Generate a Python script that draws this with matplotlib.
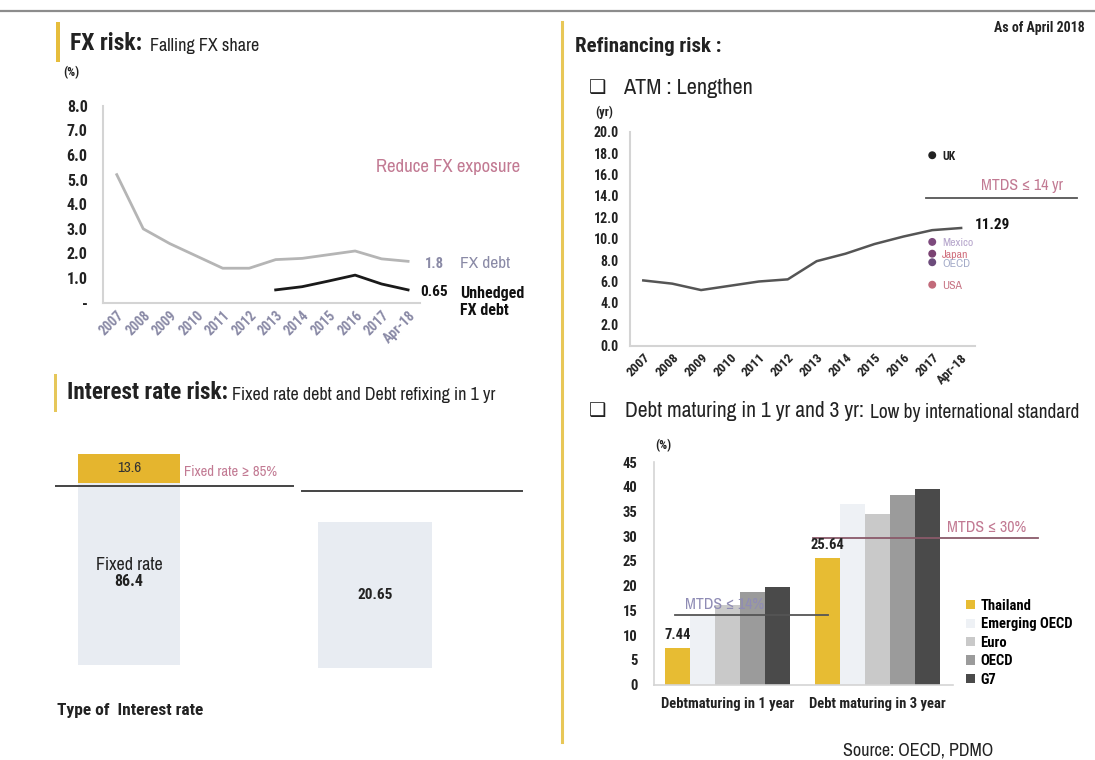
import numpy as np
import matplotlib
matplotlib.use("Agg")
import matplotlib.pyplot as plt
from matplotlib import font_manager as fm
from matplotlib.patches import Rectangle
from matplotlib.lines import Line2D


def _weights(name):
    out = []
    for f in fm.fontManager.ttflist:
        if f.name == name:
            w = f.weight
            if not isinstance(w, (int, float)):
                w = {'bold': 700, 'normal': 400, 'regular': 400}.get(str(w), 400)
            out.append(w)
    return out


REG_CANDS = ['Archivo Narrow', 'Roboto Condensed', 'Liberation Sans']
BOLD_CANDS = ['Roboto Condensed', 'IBM Plex Sans Condensed', 'Fira Sans Condensed',
              'PT Sans Narrow', 'Asap Condensed', 'Barlow Semi Condensed',
              'Encode Sans Condensed', 'Liberation Sans']
REG = next((n for n in REG_CANDS if _weights(n)), 'DejaVu Sans')
BOLD = next((n for n in BOLD_CANDS if any(w >= 600 for w in _weights(n))), 'DejaVu Sans')
plt.rcParams['font.family'] = [REG, 'DejaVu Sans']
BF = [BOLD, 'DejaVu Sans']

# ---------------- data ----------------
years = ['2007', '2008', '2009', '2010', '2011', '2012', '2013', '2014',
         '2015', '2016', '2017', 'Apr-18']
fx_debt = [5.2, 3.0, 2.4, 1.9, 1.4, 1.4, 1.75, 1.8, 1.95, 2.1, 1.78, 1.68]
unhedged_fx = [np.nan] * 6 + [0.52, 0.65, 0.88, 1.12, 0.76, 0.52]
fx_ticks = [0, 1, 2, 3, 4, 5, 6, 7, 8]
fx_ticklabels = ['-', '1.0', '2.0', '3.0', '4.0', '5.0', '6.0', '7.0', '8.0']

atm = [6.1, 5.8, 5.2, 5.6, 6.0, 6.2, 7.9, 8.6, 9.5, 10.2, 10.8, 11.0]
atm_ticks = [0, 2, 4, 6, 8, 10, 12, 14, 16, 18, 20]
peer_names = ['UK', 'Mexico', 'Japan', 'OECD', 'USA']
peer_atm = [17.8, 9.7, 8.6, 7.8, 5.7]
peer_year_idx = 10
mtds_atm = 13.8

interest_types = ['Fixed rate', 'Floating rate']
fixed_rate = 86.4
floating_rate = 13.6
fixed_target = 85
refix_1yr = 20.65
refix_line = 25

maturity_groups = ['Debtmaturing in 1 year', 'Debt maturing in 3 year']
maturity_series = ['Thailand', 'Emerging OECD', 'Euro', 'OECD', 'G7']
maturity_values = {
    'Thailand': [7.44, 25.64],
    'Emerging OECD': [14.0, 36.5],
    'Euro': [16.0, 34.5],
    'OECD': [18.8, 38.4],
    'G7': [19.8, 39.6],
}
maturity_ticks = [0, 5, 10, 15, 20, 25, 30, 35, 40, 45]
mtds_1yr = 14
mtds_3yr = 29.7

# ---------------- layout helpers ----------------
W, H = 1095, 760
fig = plt.figure(figsize=(W / 100, H / 100), dpi=100)
fig.patch.set_facecolor('white')


def rect(x0, y0, x1, y1):
    return [x0 / W, 1 - y1 / H, (x1 - x0) / W, (y1 - y0) / H]


def ftxt(x, y, s, bold=False, **kw):
    kw.setdefault('va', 'center')
    if bold:
        kw['family'] = BF
        kw['fontweight'] = 'bold'
    return fig.text(x / W, 1 - y / H, s, **kw)


def fline(x0, y0, x1, y1, **kw):
    fig.add_artist(Line2D([x0 / W, x1 / W], [1 - y0 / H, 1 - y1 / H],
                          transform=fig.transFigure, **kw))


def fbox(x0, y0, x1, y1, **kw):
    fig.add_artist(Rectangle((x0 / W, 1 - y1 / H), (x1 - x0) / W, (y1 - y0) / H,
                             transform=fig.transFigure, **kw))


def boldify(labels, size, color):
    for t in labels:
        t.set_family(BF)
        t.set_fontweight('bold')
        t.set_fontsize(size)
        t.set_color(color)


YEL = '#e6bd3c'
PINK = '#c27a93'
AXC = '#d4d4d4'
TXT = '#222222'

# ---------------- decorations ----------------
fline(0, 11, W, 11, color='#8c8c8c', lw=1.6)
fline(562, 22, 562, 742, color='#e8c757', lw=2.2)
fbox(56, 22, 60, 62, color=YEL, lw=0)
fbox(54, 374, 57, 412, color='#e6c75a', lw=0)

ftxt(1085, 28, 'As of April 2018', bold=True, ha='right', fontsize=10, color=TXT)
ftxt(70, 44, 'FX risk:', bold=True, fontsize=17, color=TXT)
ftxt(150, 46, 'Falling FX share', fontsize=13, color=TXT)
ftxt(67, 392, 'Interest rate risk:', bold=True, fontsize=16.7, color=TXT)
ftxt(232, 395, 'Fixed rate debt and Debt refixing in 1 yr', fontsize=13, color=TXT)
ftxt(575, 47, 'Refinancing risk :', bold=True, fontsize=15, color=TXT)
ftxt(589, 88, '❑', fontsize=14, family=['DejaVu Sans'], color=TXT)
ftxt(623, 88, 'ATM : Lengthen', fontsize=16, color=TXT)
ftxt(589, 411, '❑', fontsize=14, family=['DejaVu Sans'], color=TXT)
ftxt(625, 411, 'Debt maturing in 1 yr and 3 yr:', fontsize=15.5, color=TXT)
ftxt(870, 413, 'Low by international standard', fontsize=14, color=TXT)
ftxt(843, 750, 'Source: OECD, PDMO', fontsize=13, color=TXT)

# ---------------- FX risk line chart ----------------
ax1 = fig.add_axes(rect(103, 105.7, 420, 302.7))
x = np.arange(len(years))
ax1.plot(x, fx_debt, color='#b5b5b5', lw=2.0)
ax1.plot(x, unhedged_fx, color='#1a1a1a', lw=2.0)
ax1.set_xlim(-0.52, 11.45)
ax1.set_ylim(0, 8)
ax1.set_yticks(fx_ticks)
ax1.set_yticklabels(fx_ticklabels)
boldify(ax1.get_yticklabels(), 11.5, TXT)
ax1.set_xticks(x)
ax1.set_xticklabels(years, rotation=45, ha='right', rotation_mode='anchor')
boldify(ax1.get_xticklabels(), 10, '#8a8aa6')
ax1.tick_params(length=0, axis='y', pad=11)
ax1.tick_params(length=0, axis='x', pad=4)
for s in ['top', 'right']:
    ax1.spines[s].set_visible(False)
for s in ['left', 'bottom']:
    ax1.spines[s].set_color(AXC)
    ax1.spines[s].set_linewidth(1.5)
ax1.patch.set_alpha(0)
ftxt(63, 73, '(%)', bold=True, fontsize=9, color=TXT)
ftxt(376, 167, 'Reduce FX exposure', fontsize=13.5, color=PINK)
ftxt(425, 264, '1.8', bold=True, fontsize=10.5, color='#8a8aa6')
ftxt(460, 264, 'FX debt', fontsize=12.5, color='#8a8aa6')
ftxt(420, 292, '0.65', bold=True, fontsize=11, color='#111111')
ftxt(460, 302, 'Unhedged\nFX debt', bold=True, fontsize=11.5, color='#111111',
     linespacing=1.15)

# ---------------- ATM chart ----------------
ax2 = fig.add_axes(rect(630, 131.7, 975, 345.7))
ax2.plot(x, atm, color='#555555', lw=1.8)
peer_colors = ['#222222', '#7d4a7d', '#7a4272', '#6c4b7b', '#c26a7a']
peer_label_colors = ['#222222', '#b6a6cc', '#d0707f', '#a4abc8', '#c77383']
ax2.scatter([peer_year_idx] * len(peer_atm), peer_atm, color=peer_colors, s=22, zorder=3)
for nm, v, c in zip(peer_names, peer_atm, peer_label_colors):
    if nm == 'UK':
        ax2.annotate(nm, (peer_year_idx, v), xytext=(7, -1), textcoords='offset points',
                     va='center', fontsize=8.5, color=c, family=BF, fontweight='bold')
    else:
        ax2.annotate(nm, (peer_year_idx, v), xytext=(7, -1), textcoords='offset points',
                     va='center', fontsize=8.5, color=c)
ax2.plot([9.8, 15.0], [mtds_atm, mtds_atm], color='#555555', lw=1.3, clip_on=False)
ax2.text(11.7, mtds_atm + 0.5, 'MTDS ≤ 14 yr', fontsize=11.5, color=PINK, ha='left',
         va='bottom', clip_on=False)
ax2.annotate('11.29', (11, atm[-1]), xytext=(10, 2), textcoords='offset points',
             fontsize=11, family=BF, fontweight='bold', va='center', color='#111111')
ax2.set_xlim(-0.46, 11.48)
ax2.set_ylim(0, 20)
ax2.set_yticks(atm_ticks)
ax2.set_yticklabels([f'{t:.1f}' for t in atm_ticks])
boldify(ax2.get_yticklabels(), 10, TXT)
ax2.set_xticks(x)
ax2.set_xticklabels(years, rotation=45, ha='right', rotation_mode='anchor')
boldify(ax2.get_xticklabels(), 9.5, TXT)
ax2.tick_params(length=0, axis='y', pad=8)
ax2.tick_params(length=0, axis='x', pad=4)
for s in ['top', 'right']:
    ax2.spines[s].set_visible(False)
for s in ['left', 'bottom']:
    ax2.spines[s].set_color(AXC)
    ax2.spines[s].set_linewidth(1.5)
ax2.patch.set_alpha(0)
ftxt(595, 112, '(yr)', bold=True, fontsize=9, color=TXT)

# ---------------- Interest rate bars ----------------
ax3 = fig.add_axes(rect(55, 454, 300, 665))
ax3.bar([0], [fixed_rate], width=1, color='#e8ecf2', edgecolor='none')
ax3.bar([0], [floating_rate], bottom=[fixed_rate], width=1, color='#e5b52e',
        edgecolor='none')
ax3.axhline(fixed_target, xmin=0, xmax=238 / 245, color='#444444', lw=1.4)
ax3.text(0, fixed_rate + floating_rate / 2, f'{floating_rate}', ha='center', va='center',
         fontsize=11, color='#333333')
ax3.text(0, fixed_rate / 2 + 4, 'Fixed rate', ha='center', va='center', fontsize=13,
         color=TXT)
ax3.text(0, fixed_rate / 2 - 3.5, f'{fixed_rate}', ha='center', va='center', fontsize=11.5,
         family=BF, fontweight='bold', color=TXT)
ax3.text(0.54, fixed_rate + floating_rate / 2 - 1.5, 'Fixed rate ≥ 85%', ha='left',
         va='center', fontsize=10.5, color=PINK)
ax3.set_xlim(-0.728, 1.68)
ax3.set_ylim(0, 100)
ax3.axis('off')

ax4 = fig.add_axes(rect(300, 454, 525, 668))
ax4.bar([0], [refix_1yr], width=1, color='#e8ecf2', edgecolor='none')
ax4.axhline(refix_line, xmin=1.7 / 225, xmax=221.7 / 225, color='#444444', lw=1.4)
ax4.text(0, refix_1yr / 2, f'{refix_1yr}', ha='center', va='center', fontsize=11,
         family=BF, fontweight='bold', color=TXT)
ax4.set_xlim((300 - 375) / 113.4, (525 - 375) / 113.4)
ax4.set_ylim(0, 214 / 7.08)
ax4.axis('off')
ftxt(57, 711, 'Type of  Interest rate', bold=True, fontsize=12.5, color=TXT)

# ---------------- Debt maturing bars ----------------
ax5 = fig.add_axes(rect(654, 462, 953, 684.5))
bar_colors = ['#e7bc33', '#eef1f5', '#c9c9c9', '#9b9b9b', '#4a4a4a']
gx = np.array([0, 6])
for i, (nm, c) in enumerate(zip(maturity_series, bar_colors)):
    ax5.bar(gx + (i - 2), maturity_values[nm], width=1, color=c, label=nm,
            edgecolor='none')
ax5.plot([-2.1, 4.0], [mtds_1yr, mtds_1yr], color='#555555', lw=1.3, clip_on=False)
ax5.plot([3.4, 12.4], [mtds_3yr, mtds_3yr], color='#8a5a6a', lw=1.3, clip_on=False)
ax5.text(-1.7, mtds_1yr + 0.6, 'MTDS ≤ 14%', fontsize=11.5, color='#8f8cb5', va='bottom',
         zorder=5)
ax5.text(8.8, mtds_3yr + 0.6, 'MTDS ≤ 30%', fontsize=11.5, color=PINK, va='bottom',
         clip_on=False)
th = maturity_values['Thailand']
for gxi, v in zip(gx, th):
    ax5.text(gxi - 2, v + 1.2, f'{v}', ha='center', va='bottom', fontsize=10.5,
             family=BF, fontweight='bold', color=TXT)
ax5.set_xlim(-2.94, 9.02)
ax5.set_ylim(0, 45)
ax5.set_yticks(maturity_ticks)
ax5.set_yticklabels([str(t) for t in maturity_ticks])
boldify(ax5.get_yticklabels(), 10.5, TXT)
ax5.set_xticks(gx)
ax5.set_xticklabels(maturity_groups)
boldify(ax5.get_xticklabels(), 10.5, TXT)
ax5.tick_params(length=0, axis='y', pad=12)
ax5.tick_params(length=0, axis='x', pad=9)
for s in ['top', 'right']:
    ax5.spines[s].set_visible(False)
for s in ['left', 'bottom']:
    ax5.spines[s].set_color(AXC)
    ax5.spines[s].set_linewidth(1.2)
ax5.patch.set_alpha(0)
ftxt(655, 446, '(%)', bold=True, fontsize=9, color=TXT)
ax5.legend(loc='upper left', bbox_to_anchor=(966 / W, 1 - 599 / H),
           bbox_transform=fig.transFigure, frameon=False,
           handlelength=0.6, handleheight=0.6, handletextpad=0.4, labelspacing=0.3,
           borderpad=0, borderaxespad=0,
           prop=fm.FontProperties(family=BF, weight='bold', size=10.5))

fig.savefig('out.png', dpi=100, facecolor='white')
